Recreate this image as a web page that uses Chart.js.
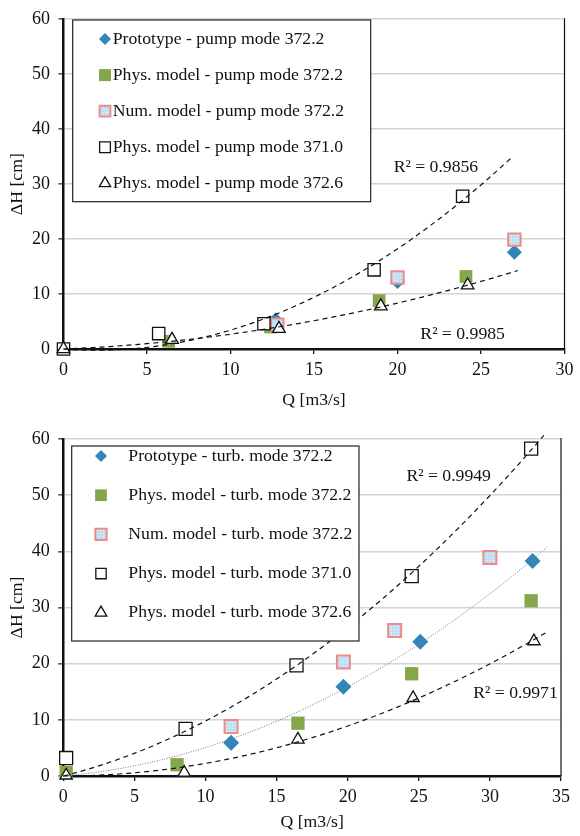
<!DOCTYPE html>
<html>
<head>
<meta charset="utf-8">
<script src="https://cdn.jsdelivr.net/npm/chart.js@4.4.1/dist/chart.umd.min.js"></script>
<style>
body { margin: 0; background: #fff; }
canvas { position: absolute; left: 0; }
#pump { top: 0; }
#turb { top: 418px; }
</style>
</head>
<body>
<canvas id="pump" width="580" height="418"></canvas>
<canvas id="turb" width="580" height="418"></canvas>
<script>
// ---- pump mode (top chart) ----
const pumpLabels = ['Prototype - pump mode 372.2', 'Phys. model - pump mode 372.2', 'Num. model - pump mode 372.2',
    'Phys. model - pump mode 371.0', 'Phys. model - pump mode 372.6'];
const pumpProtoQ = [12.7, 20.0, 27.0];
const pumpProtoH = [5.3, 12.3, 17.6];
const pumpPhysQ = [6.3, 12.4, 18.9, 24.1];
const pumpPhysH = [1.4, 4.0, 8.8, 13.2];
const pumpNumQ = [12.8, 20.0, 27.0];
const pumpNumH = [4.4, 13.0, 19.9];
const pump371Q = [0, 5.7, 12.0, 18.6, 23.9];
const pump371H = [0, 2.8, 4.6, 14.4, 27.8];
const pump3726Q = [0, 6.5, 12.9, 19.0, 24.2];
const pump3726H = [0, 1.7, 3.7, 7.8, 11.6];
const pumpTrendEnd = [26.8, 27.2];          // 371.0, 372.6
const pumpR2 = ['R² = 0.9856', 'R² = 0.9985'];
const pumpTicksQ = [0, 30, 5];              // min, max, step
const pumpTicksH = [0, 60, 10];

// ---- turbine mode (bottom chart) ----
const turbLabels = ['Prototype - turb. mode 372.2', 'Phys. model - turb. mode 372.2', 'Num. model - turb. mode 372.2',
    'Phys. model - turb. mode 371.0', 'Phys. model - turb. mode 372.6'];
const turbProtoQ = [11.8, 19.7, 25.1, 33.0];
const turbProtoH = [5.9, 15.9, 23.9, 38.3];
const turbPhysQ = [0.2, 8.0, 16.5, 24.5, 32.9];
const turbPhysH = [0.6, 2.0, 9.4, 18.2, 31.2];
const turbNumQ = [11.8, 19.7, 23.3, 30.0];
const turbNumH = [8.8, 20.3, 25.9, 38.9];
const turb371Q = [0.2, 8.6, 16.4, 24.5, 32.9];
const turb371H = [3.2, 8.4, 19.7, 35.6, 58.3];
const turb3726Q = [0.2, 8.5, 16.5, 24.6, 33.1];
const turb3726H = [0.1, 0.6, 6.5, 13.9, 24.0];
const turbTrendEnd = [33.8, 33.9, 34.0];    // 371.0, 372.6, prototype
const turbR2 = ['R² = 0.9949', 'R² = 0.9971'];
const turbTicksQ = [0, 35, 5];
const turbTicksH = [0, 60, 10];

const serif = 'Liberation Serif';

function pts(xs, ys) {
    return xs.map((x, i) => ({x: x, y: ys[i]}));
}

// order 2 polynomial trendline through the origin (least squares), like the spreadsheet one
function trend(xs, ys, end) {
    let s4 = 0, s3 = 0, s2 = 0, s2y = 0, s1y = 0;
    xs.forEach((x, i) => {
        s4 += x ** 4; s3 += x ** 3; s2 += x * x;
        s2y += x * x * ys[i]; s1y += x * ys[i];
    });
    const det = s4 * s2 - s3 * s3;
    const a = (s2y * s2 - s3 * s1y) / det;
    const b = (s4 * s1y - s3 * s2y) / det;
    const out = [];
    for (let i = 0; i <= 60; i++) {
        const x = end * i / 60;
        out.push({x: x, y: a * x * x + b * x});
    }
    return out;
}

// light blue dotted fill for the numerical model markers
function numPattern() {
    const c = document.createElement('canvas');
    c.width = 3; c.height = 3;
    const g = c.getContext('2d');
    g.fillStyle = '#bfe0f3';
    g.fillRect(0, 0, 3, 3);
    g.fillStyle = '#eef7fc';
    g.fillRect(1, 1, 1, 1);
    return g.createPattern(c, 'repeat');
}

const boxLegend = {
    id: 'boxLegend',
    afterDatasetsDraw(chart, args, o) {
        const ctx = chart.ctx;
        ctx.save();
        ctx.fillStyle = '#fff';
        ctx.fillRect(o.left, o.top, o.right - o.left, o.bottom - o.top);
        ctx.strokeStyle = '#222';
        ctx.lineWidth = 1.2;
        ctx.strokeRect(o.left, o.top, o.right - o.left, o.bottom - o.top);
        let row = 0;
        chart.data.datasets.forEach(ds => {
            if (ds.trendline) return;
            const y = o.firstY + row * o.rowGap;
            ctx.fillStyle = ds.backgroundColor;
            ctx.strokeStyle = ds.borderColor;
            ctx.lineWidth = ds.borderWidth;
            Chart.helpers.drawPoint(ctx, {pointStyle: ds.pointStyle, rotation: 0,
                radius: ds.legendRadius, borderWidth: ds.borderWidth}, o.markerX, y);
            ctx.fillStyle = '#111';
            ctx.font = '17.7px "' + serif + '"';
            ctx.textAlign = 'left';
            ctx.textBaseline = 'middle';
            ctx.fillText(ds.label, o.textX, y);
            row++;
        });
        ctx.restore();
    }
};

const r2Text = {
    id: 'r2Text',
    afterDatasetsDraw(chart, args, o) {
        const ctx = chart.ctx;
        const xs = chart.scales.x, ys = chart.scales.y;
        ctx.save();
        ctx.fillStyle = '#111';
        ctx.font = '17.7px "' + serif + '"';
        ctx.textAlign = 'center';
        ctx.textBaseline = 'middle';
        o.items.forEach(it => ctx.fillText(it.text, xs.getPixelForValue(it.q), ys.getPixelForValue(it.h)));
        ctx.restore();
    }
};

const rightBorder = {
    id: 'rightBorder',
    beforeDatasetsDraw(chart) {
        const a = chart.chartArea, ctx = chart.ctx;
        ctx.save();
        ctx.strokeStyle = '#111';
        ctx.lineWidth = 1.2;
        ctx.beginPath();
        ctx.moveTo(a.right, a.top - 1);
        ctx.lineTo(a.right, a.bottom);
        ctx.stroke();
        ctx.restore();
    }
};

function series(label, data, style, order) {
    return Object.assign({label: label, data: data, order: order, clip: false, showLine: false}, style);
}

function trendSet(data, dash, color, width) {
    return {label: '', data: data, trendline: true, showLine: true, pointRadius: 0, clip: false,
        borderColor: color, borderWidth: width, borderDash: dash, order: 0, tension: 0};
}

function makeChart(id, datasets, geo, ticksQ, ticksH, r2items) {
    const tickFont = {family: serif, size: 18};
    const titleFont = {family: serif, size: 17.7};
    return new Chart(document.getElementById(id), {
        type: 'scatter',
        data: {datasets: datasets},
        options: {
            responsive: false,
            animation: false,
            devicePixelRatio: 1,
            layout: {padding: {top: geo.padTop, right: geo.padRight, bottom: 0, left: 0}},
            plugins: {
                legend: {display: false},
                tooltip: {enabled: false},
                boxLegend: geo.legend,
                r2Text: {items: r2items}
            },
            scales: {
                x: {
                    type: 'linear', min: ticksQ[0], max: ticksQ[1],
                    afterFit: s => { s.height = geo.xHeight; },
                    ticks: {stepSize: ticksQ[2], font: tickFont, color: '#111', padding: 5.5, maxRotation: 0},
                    grid: {drawOnChartArea: false, tickLength: 5, tickColor: '#111', lineWidth: 1.3},
                    border: {color: '#111', width: 2.5},
                    title: {display: true, text: 'Q [m3/s]', font: titleFont, color: '#111',
                        padding: {top: 0, bottom: geo.xTitlePad}}
                },
                y: {
                    type: 'linear', min: ticksH[0], max: ticksH[1],
                    afterFit: s => { s.width = geo.yWidth; },
                    ticks: {stepSize: ticksH[2], font: tickFont, color: '#111', padding: 8.5},
                    grid: {
                        color: c => c.tick && c.tick.value === 0 ? 'rgba(0,0,0,0)' : '#d3d3d3',
                        lineWidth: 1.6, tickLength: 5, tickColor: '#555'
                    },
                    border: {color: '#111', width: 2.5},
                    title: {display: true, text: 'ΔH [cm]', font: titleFont, color: '#111',
                        padding: {top: 6.4, bottom: 0}}
                }
            }
        },
        plugins: [rightBorder, boxLegend, r2Text]
    });
}

const pattern = numPattern();

function styles(s) {
    return {
        proto: {pointStyle: 'rectRot', pointRadius: s[0], legendRadius: s[5], backgroundColor: '#2f86b8', borderColor: '#2f86b8', borderWidth: 0},
        phys: {pointStyle: 'rect', pointRadius: s[1], legendRadius: s[6], backgroundColor: '#84a74b', borderColor: '#84a74b', borderWidth: 0},
        num: {pointStyle: 'rect', pointRadius: s[2], legendRadius: s[7], backgroundColor: pattern, borderColor: '#ee8a8a', borderWidth: 2},
        sq: {pointStyle: 'rect', pointRadius: s[3], legendRadius: s[8], backgroundColor: '#fff', borderColor: '#111', borderWidth: 1.3},
        tri: {pointStyle: 'triangle', pointRadius: s[4], legendRadius: s[9], backgroundColor: '#fff', borderColor: '#111', borderWidth: 1.3}
    };
}

const ps = styles([7.5, 9, 8.8, 8.7, 7.3, 6, 8.5, 7.6, 7.6, 6.5]);
makeChart('pump', [
    trendSet(trend(pump371Q, pump371H, pumpTrendEnd[0]), [5, 4], '#111', 1.2),
    trendSet(trend(pump3726Q, pump3726H, pumpTrendEnd[1]), [5, 4], '#111', 1.2),
    series(pumpLabels[0], pts(pumpProtoQ, pumpProtoH), ps.proto, 5),
    series(pumpLabels[1], pts(pumpPhysQ, pumpPhysH), ps.phys, 4),
    series(pumpLabels[2], pts(pumpNumQ, pumpNumH), ps.num, 3),
    series(pumpLabels[3], pts(pump371Q, pump371H), ps.sq, 2),
    series(pumpLabels[4], pts(pump3726Q, pump3726H), ps.tri, 1)
], {
    padTop: 12, padRight: 15.5, xHeight: 69, yWidth: 63.5, xTitlePad: 7.4,
    legend: {left: 72.7, top: 20, right: 370.7, bottom: 201.7, markerX: 105, textX: 112.7, firstY: 39, rowGap: 36.1}
}, pumpTicksQ, pumpTicksH, [
    {text: pumpR2[0], q: 22.3, h: 33.1},
    {text: pumpR2[1], q: 23.9, h: 2.7}
]);

const ts = styles([8, 9.4, 9.2, 9.2, 7.1, 6, 8.3, 8, 7.3, 6.7]);
makeChart('turb', [
    trendSet(trend(turb371Q, turb371H, turbTrendEnd[0]), [5, 4], '#111', 1.2),
    trendSet(trend(turb3726Q, turb3726H, turbTrendEnd[1]), [5, 4], '#111', 1.2),
    trendSet(trend(turbProtoQ, turbProtoH, turbTrendEnd[2]), [1, 1.5], '#777', 1),
    series(turbLabels[0], pts(turbProtoQ, turbProtoH), ts.proto, 5),
    series(turbLabels[1], pts(turbPhysQ, turbPhysH), ts.phys, 4),
    series(turbLabels[2], pts(turbNumQ, turbNumH), ts.num, 3),
    series(turbLabels[3], pts(turb371Q, turb371H), ts.sq, 2),
    series(turbLabels[4], pts(turb3726Q, turb3726H), ts.tri, 1)
], {
    padTop: 21, padRight: 19, xHeight: 60, yWidth: 63.3, xTitlePad: 3.4,
    legend: {left: 71.7, top: 28, right: 359, bottom: 223, markerX: 101, textX: 128.3, firstY: 38, rowGap: 39.2}
}, turbTicksQ, turbTicksH, [
    {text: turbR2[0], q: 27.1, h: 53.3},
    {text: turbR2[1], q: 31.8, h: 14.8}
]);
</script>
</body>
</html>
